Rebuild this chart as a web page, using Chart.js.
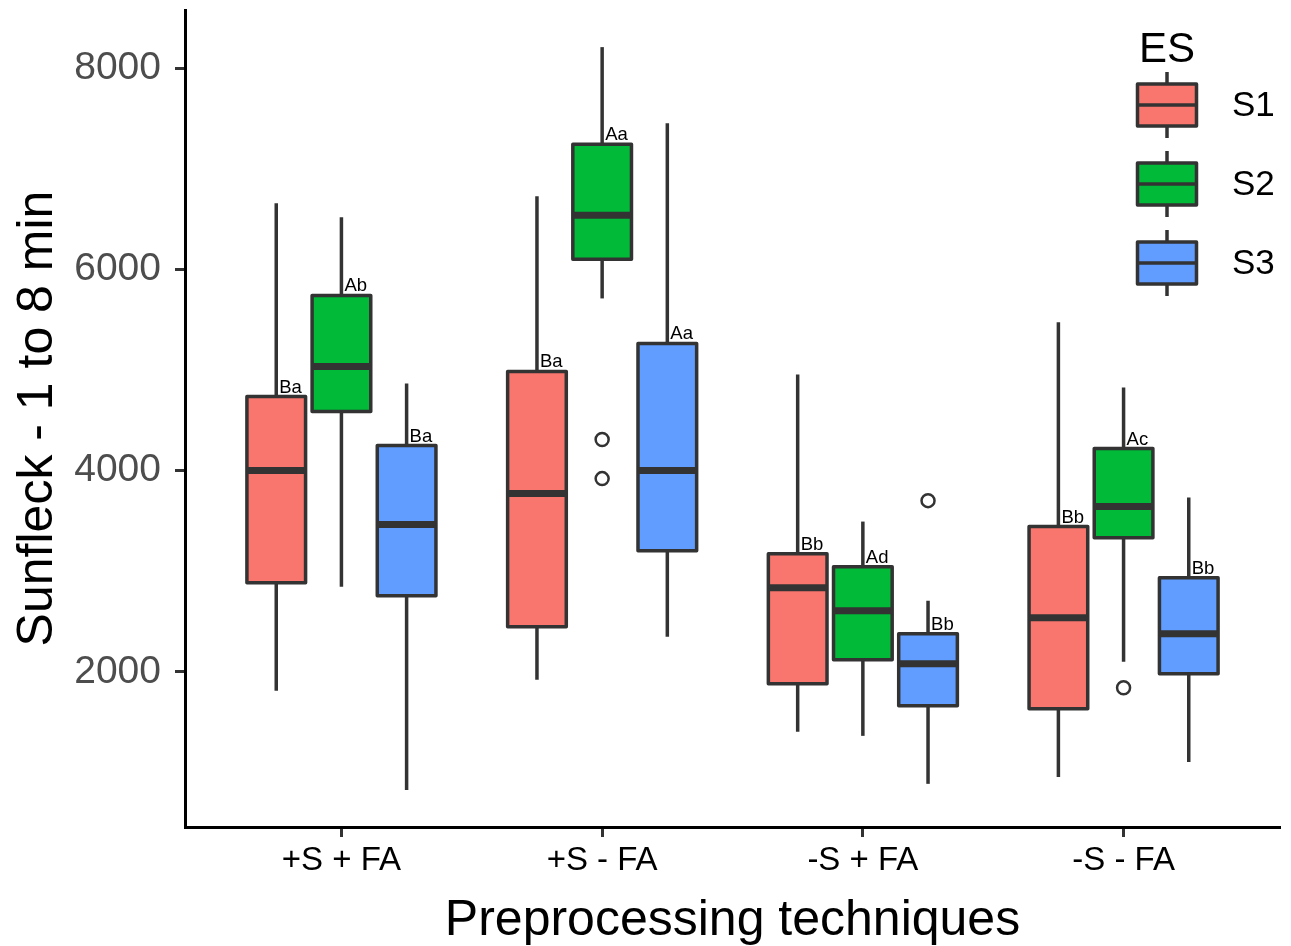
<!DOCTYPE html>
<html><head><meta charset="utf-8">
<script src="https://cdn.jsdelivr.net/npm/chart.js@4/dist/chart.umd.min.js"></script>
<style>html,body{margin:0;padding:0;background:#fff;}canvas{display:block;}</style>
</head><body>
<canvas id="c" width="1291" height="946"></canvas>
<script>
// ---- data ----
const categories = ['+S + FA', '+S - FA', '-S + FA', '-S - FA'];
const seriesNames = ['S1', 'S2', 'S3'];
const yTicks = [2000, 4000, 6000, 8000];

const s1Low    = [1811, 1920, 1403, 955];
const s1Q1     = [2886, 2448, 1881, 1632];
const s1Median = [4000, 3771, 2836, 2537];
const s1Q3     = [4736, 4985, 3174, 3443];
const s1High   = [6657, 6726, 4955, 5473];
const s1Outliers = [[], [], [], []];
const s1Letters = ['Ba', 'Ba', 'Bb', 'Bb'];

const s2Low    = [2846, 5711, 1363, 2100];
const s2Q1     = [4587, 6100, 2119, 3333];
const s2Median = [5035, 6537, 2607, 3642];
const s2Q3     = [5741, 7244, 3045, 4219];
const s2High   = [6517, 8209, 3493, 4826];
const s2Outliers = [[], [4308, 3920], [], [1841]];
const s2Letters = ['Ab', 'Aa', 'Ad', 'Ac'];

const s3Low    = [826, 2348, 886, 1104];
const s3Q1     = [2756, 3204, 1662, 1980];
const s3Median = [3463, 4000, 2080, 2378];
const s3Q3     = [4249, 5264, 2378, 2935];
const s3High   = [4866, 7453, 2706, 3731];
const s3Outliers = [[], [], [3701], []];
const s3Letters = ['Ba', 'Aa', 'Bb', 'Bb'];

const colors = ['#F8766D', '#00BA38', '#619CFF'];
const lineCol = '#333333';
const FONT = "'Liberation Sans', Arial, sans-serif";

const series = [
  {low: s1Low, q1: s1Q1, med: s1Median, q3: s1Q3, high: s1High, out: s1Outliers, letters: s1Letters},
  {low: s2Low, q1: s2Q1, med: s2Median, q3: s2Q3, high: s2High, out: s2Outliers, letters: s2Letters},
  {low: s3Low, q1: s3Q1, med: s3Median, q3: s3Q3, high: s3High, out: s3Outliers, letters: s3Letters}
];
const dodge = 0.25, boxW = 0.225;

const datasets = series.map((s, i) => {
  const pts = [];
  s.out.forEach((arr, c) => arr.forEach(v => pts.push({x: c + 1 + (i - 1) * dodge, y: v})));
  return {
    label: seriesNames[i], data: pts, pointRadius: 6.5, pointBorderWidth: 2.5,
    pointBorderColor: lineCol, pointBackgroundColor: '#ffffff', showLine: false
  };
});

const boxPlugin = {
  id: 'boxes',
  beforeDatasetsDraw(chart) {
    const ctx = chart.ctx, xs = chart.scales.x, ys = chart.scales.y;
    const wpx = Math.abs(xs.getPixelForValue(boxW) - xs.getPixelForValue(0));
    ctx.save();
    series.forEach((s, i) => {
      categories.forEach((cat, c) => {
        const xc = xs.getPixelForValue(c + 1 + (i - 1) * dodge);
        const yl = ys.getPixelForValue(s.low[c]), yh = ys.getPixelForValue(s.high[c]);
        const y1 = ys.getPixelForValue(s.q1[c]), y3 = ys.getPixelForValue(s.q3[c]);
        const ym = ys.getPixelForValue(s.med[c]);
        ctx.strokeStyle = lineCol; ctx.lineWidth = 3.5; ctx.lineCap = 'butt';
        ctx.beginPath(); ctx.moveTo(xc, yh); ctx.lineTo(xc, yl); ctx.stroke();
        ctx.fillStyle = colors[i];
        ctx.fillRect(xc - wpx / 2, y3, wpx, y1 - y3);
        ctx.lineJoin = 'round';
        ctx.strokeRect(xc - wpx / 2, y3, wpx, y1 - y3);
        ctx.lineWidth = 7;
        ctx.beginPath(); ctx.moveTo(xc - wpx / 2, ym); ctx.lineTo(xc + wpx / 2, ym); ctx.stroke();
        ctx.fillStyle = '#000';
        ctx.font = '18.5px ' + FONT; ctx.textAlign = 'left'; ctx.textBaseline = 'alphabetic';
        ctx.fillText(s.letters[c], xc + 3, y3 - 4);
      });
    });
    ctx.restore();
  },
  afterDraw(chart) {
    const ctx = chart.ctx;
    ctx.save();
    ctx.fillStyle = '#000';
    ctx.font = '42px ' + FONT; ctx.textAlign = 'left'; ctx.textBaseline = 'alphabetic';
    ctx.fillText('ES', 1139, 62);
    const kx = 1167, kw = 59, kh = 42;
    seriesNames.forEach((n, i) => {
      const cy = 105 + i * 79;
      ctx.strokeStyle = lineCol; ctx.lineWidth = 3.5;
      ctx.beginPath(); ctx.moveTo(kx, cy - 33); ctx.lineTo(kx, cy + 33); ctx.stroke();
      ctx.fillStyle = colors[i];
      ctx.fillRect(kx - kw / 2, cy - kh / 2, kw, kh);
      ctx.lineJoin = 'round';
      ctx.strokeRect(kx - kw / 2, cy - kh / 2, kw, kh);
      ctx.lineWidth = 3.5;
      ctx.beginPath(); ctx.moveTo(kx - kw / 2, cy); ctx.lineTo(kx + kw / 2, cy); ctx.stroke();
      ctx.fillStyle = '#000';
      ctx.font = '35px ' + FONT; ctx.textBaseline = 'middle';
      ctx.fillText(n, 1232, cy + 1);
    });
    ctx.restore();
  }
};

new Chart(document.getElementById('c'), {
  type: 'scatter',
  data: {datasets},
  plugins: [boxPlugin],
  options: {
    responsive: false, animation: false,
    layout: {padding: {top: 10, right: 11, left: 0, bottom: 0}},
    plugins: {legend: {display: false}, tooltip: {enabled: false}},
    scales: {
      x: {
        type: 'linear', min: 0.4, max: 4.6,
        afterBuildTicks: sc => { sc.ticks = categories.map((c, i) => ({value: i + 1})); },
        afterFit: sc => { sc.height = 119; sc.paddingLeft = 0; sc.paddingRight = 0; },
        ticks: {callback: v => categories[v - 1], color: '#000', font: {family: FONT, size: 33}, padding: 4, maxRotation: 0, autoSkip: false},
        grid: {drawOnChartArea: false, drawTicks: true, tickLength: 10, tickColor: lineCol, tickWidth: 3},
        border: {display: true, color: '#000', width: 3},
        title: {display: true, text: 'Preprocessing techniques', color: '#000', font: {family: FONT, size: 50, lineHeight: 1.1}, padding: {top: 0, bottom: -3}}
      },
      y: {
        type: 'linear', min: 457, max: 8578,
        afterBuildTicks: sc => { sc.ticks = yTicks.map(v => ({value: v})); },
        afterFit: sc => { sc.width = 185; sc.paddingTop = 0; sc.paddingBottom = 0; },
        ticks: {color: '#4D4D4D', font: {family: FONT, size: 39}, padding: 14, callback: v => String(v)},
        grid: {drawOnChartArea: false, drawTicks: true, tickLength: 10, tickColor: lineCol, tickWidth: 3},
        border: {display: true, color: '#000', width: 3},
        title: {display: true, text: 'Sunfleck - 1 to 8 min', color: '#000', font: {family: FONT, size: 50, lineHeight: 1.1}, padding: {top: 11, bottom: 0}}
      }
    }
  }
});
</script>
</body></html>
